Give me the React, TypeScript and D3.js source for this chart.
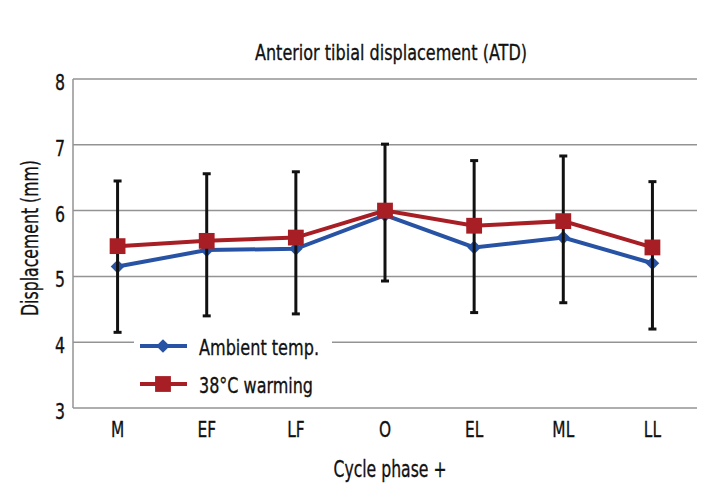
import React, { useEffect, useRef } from "react";
import * as d3 from "d3";

const phases = ["M", "EF", "LF", "O", "EL", "ML", "LL"];
const ambient = [5.15, 5.4, 5.42, 5.93, 5.44, 5.59, 5.2];
const warming = [5.46, 5.54, 5.59, 6.0, 5.77, 5.84, 5.44];
const errUpper = [6.45, 6.56, 6.59, 7.01, 6.76, 6.83, 6.44];
const errLower = [4.15, 4.4, 4.43, 4.93, 4.45, 4.6, 4.2];
const yTicks = [3, 4, 5, 6, 7, 8];

const FONT = "'DejaVu Sans', sans-serif";
const BLUE = "#2853a4";
const RED = "#a71e24";

// condensed-looking text: squeeze glyphs (scale or fixed length)
const addText = (
  g: d3.Selection<any, unknown, null, undefined>,
  x: number,
  y: number,
  txt: string,
  size: number,
  opts: { sx?: number; len?: number; anchor?: string; rotate?: number } = {}
) => {
  const { sx = 1, len, anchor = "middle", rotate = 0 } = opts;
  const t = g
    .append("text")
    .attr("transform", `translate(${x},${y}) rotate(${rotate}) scale(${sx},1)`)
    .attr("text-anchor", anchor)
    .attr("font-size", size)
    .attr("fill", "#111")
    .attr("stroke", "#111")
    .attr("stroke-width", 0.35)
    .text(txt);
  if (len) t.attr("textLength", len).attr("lengthAdjust", "spacingAndGlyphs");
  return t;
};

const App = () => {
  const ref = useRef<SVGSVGElement>(null);

  useEffect(() => {
    if (!ref.current) return;
    const svg = d3.select(ref.current);
    svg.selectAll("*").remove();

    const width = 720;
    const height = 497;
    const margin = { top: 79, right: 23, bottom: 89, left: 73 };

    const x = d3
      .scaleBand()
      .domain(phases)
      .range([margin.left, width - margin.right])
      .padding(0);
    const y = d3.scaleLinear().domain([3, 8]).range([height - margin.bottom, margin.top]);
    const cx = (p: string) => (x(p) as number) + x.bandwidth() / 2;

    svg.attr("width", width).attr("height", height).style("font-family", FONT);

    // grid
    svg
      .append("g")
      .selectAll("line")
      .data(yTicks)
      .join("line")
      .attr("x1", margin.left)
      .attr("x2", width - margin.right)
      .attr("y1", (d) => y(d))
      .attr("y2", (d) => y(d))
      .attr("stroke", "#939393")
      .attr("stroke-width", 1.5);

    svg
      .append("line")
      .attr("x1", margin.left)
      .attr("x2", margin.left)
      .attr("y1", y(8))
      .attr("y2", y(3))
      .attr("stroke", "#939393")
      .attr("stroke-width", 1.5);

    // tick labels
    const tg = svg.append("g");
    yTicks.forEach((t) => addText(tg, 65, y(t) + 11, String(t), 21, { sx: 0.75, anchor: "end" }));
    phases.forEach((p) => addText(tg, cx(p), 437, p, 22, { sx: 0.7 }));

    // titles
    addText(svg, 391, 60, "Anterior tibial displacement (ATD)", 21, { len: 272 });
    addText(svg, 390, 477, "Cycle phase +", 23, { len: 113 });
    addText(svg, 38, 238, "Displacement (mm)", 23, { len: 156, rotate: -90 });

    const line = d3
      .line<number>()
      .x((_, i) => cx(phases[i]))
      .y((d) => y(d));

    const diamond = d3.symbol().type(d3.symbolDiamond2).size(120);
    const square = d3.symbol().type(d3.symbolSquare).size(250);

    // blue series
    svg
      .append("path")
      .datum(ambient)
      .attr("d", line)
      .attr("fill", "none")
      .attr("stroke", BLUE)
      .attr("stroke-width", 4);
    svg
      .append("g")
      .selectAll("path")
      .data(ambient)
      .join("path")
      .attr("d", diamond)
      .attr("transform", (d, i) => `translate(${cx(phases[i])},${y(d)})`)
      .attr("fill", BLUE);

    // error bars
    const eb = svg.append("g").attr("stroke", "#111").attr("stroke-width", 3);
    phases.forEach((p, i) => {
      const c = cx(p);
      eb.append("line").attr("x1", c).attr("x2", c).attr("y1", y(errUpper[i])).attr("y2", y(errLower[i]));
      eb.append("line").attr("x1", c - 4).attr("x2", c + 4).attr("y1", y(errUpper[i])).attr("y2", y(errUpper[i]));
      eb.append("line").attr("x1", c - 4).attr("x2", c + 4).attr("y1", y(errLower[i])).attr("y2", y(errLower[i]));
    });

    // red series
    svg
      .append("path")
      .datum(warming)
      .attr("d", line)
      .attr("fill", "none")
      .attr("stroke", RED)
      .attr("stroke-width", 4);
    svg
      .append("g")
      .selectAll("path")
      .data(warming)
      .join("path")
      .attr("d", square)
      .attr("transform", (d, i) => `translate(${cx(phases[i])},${y(d)})`)
      .attr("fill", RED);

    // legend
    const lg = svg.append("g");
    lg.append("rect").attr("x", 134).attr("y", 330).attr("width", 198).attr("height", 70).attr("fill", "#fff");
    const items = [
      { label: "Ambient temp.", color: BLUE, sym: diamond, yy: 346, len: 120 },
      { label: "38°C warming", color: RED, sym: square, yy: 384, len: 114 },
    ];
    items.forEach((it) => {
      lg.append("line")
        .attr("x1", 140)
        .attr("x2", 187)
        .attr("y1", it.yy)
        .attr("y2", it.yy)
        .attr("stroke", it.color)
        .attr("stroke-width", 4);
      lg.append("path")
        .attr("d", it.sym)
        .attr("transform", `translate(163,${it.yy})`)
        .attr("fill", it.color);
      addText(lg, 199, it.yy + 9, it.label, 22, { len: it.len, anchor: "start" });
    });
  }, []);

  return <svg ref={ref} style={{ display: "block", position: "absolute", left: 0, top: 0 }} />;
};

export default App;
